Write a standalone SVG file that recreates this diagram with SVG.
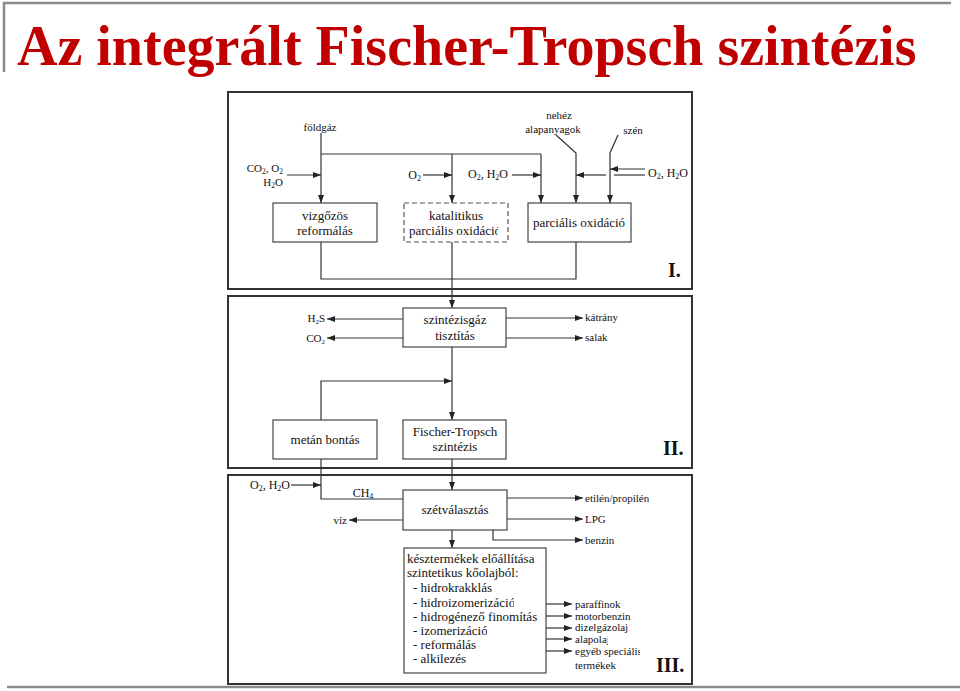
<svg xmlns="http://www.w3.org/2000/svg" width="960" height="691" viewBox="0 0 960 691">
<style>
.frame{fill:none;stroke:#8c8c8c;stroke-width:2.5}
.panel{fill:#fff;stroke:#333;stroke-width:2}
.box{fill:#fff;stroke:#444;stroke-width:1.2}
.dash{fill:#fff;stroke:#555;stroke-width:1.2;stroke-dasharray:5 3}
.ln{fill:none;stroke:#333;stroke-width:1.2}
.arr{fill:none;stroke:#333;stroke-width:1.2;marker-end:url(#ah)}
text{font-family:"Liberation Serif","Times New Roman",serif;fill:#111}
.bt{font-size:13px}
.lb{font-size:11px}
.ch{font-size:12px}
.rn{font-size:20px;font-weight:bold}
.title{font-size:56px;font-weight:bold;fill:#c00000}
.m{text-anchor:middle}
.e{text-anchor:end}
</style>
<defs>
<marker id="ah" markerUnits="userSpaceOnUse" markerWidth="9" markerHeight="6" refX="8" refY="3" orient="auto">
<path d="M0,0 L8,3 L0,6 z" fill="#222"/>
</marker>
<clipPath id="c1"><rect x="400" y="222" width="98" height="20"/></clipPath>
<clipPath id="c2"><rect x="528" y="208" width="100" height="25"/></clipPath>
<clipPath id="c3"><rect x="405" y="593" width="109" height="16"/></clipPath>
<clipPath id="c4"><rect x="405" y="621" width="82" height="16"/></clipPath>
<clipPath id="c5"><rect x="405" y="649" width="61" height="16"/></clipPath>
<clipPath id="c6"><rect x="570" y="633" width="38" height="14"/></clipPath>
<clipPath id="c7"><rect x="570" y="645" width="70" height="14"/></clipPath>
<clipPath id="c8"><rect x="580" y="490" width="72" height="16"/></clipPath>
</defs>

<g id="slide-frame">
<path class="frame" d="M4,72 V3 H951"/>
<path class="frame" d="M7,687 H960"/>
</g>
<g id="title">
<text class="title" x="17" y="65">Az integrált Fischer-Tropsch szintézis</text>
</g>

<g id="panels">
<rect id="panel-I" class="panel" x="228" y="92" width="464" height="197"/>
<rect id="panel-II" class="panel" x="228" y="296" width="464" height="172"/>
<rect id="panel-III" class="panel" x="228" y="475" width="464" height="209"/>
<text class="rn" x="668" y="277">I.</text>
<text class="rn" x="663" y="455">II.</text>
<text class="rn" x="656" y="672">III.</text>
</g>

<g id="connectors">
<path class="arr" d="M321,133 V203"/>
<path class="ln" d="M321,154 H541"/>
<path class="arr" d="M452,154 V203"/>
<path class="arr" d="M541,154 V203"/>
<path class="arr" d="M287,175 H321"/>
<path class="arr" d="M423,175 H452"/>
<path class="arr" d="M512,175 H541"/>
<path class="arr" d="M556,135 L576,153 V203"/>
<path class="arr" d="M618,135 L610,153 V203"/>
<path class="arr" d="M645,169 H610"/>
<path class="ln" d="M645,175 H614"/>
<path class="arr" d="M606,175 H576"/>
<path class="ln" d="M321,242 V279 H576 V242"/>
<path class="arr" d="M452,242 V308"/>
<path class="arr" d="M403,319 H327"/>
<path class="arr" d="M403,338 H327"/>
<path class="arr" d="M506,318 H583"/>
<path class="arr" d="M506,338 H583"/>
<path class="arr" d="M452,347 V420"/>
<path class="arr" d="M321,420 V381 H452"/>
<path class="arr" d="M452,459 V490"/>
<path class="ln" d="M321,459 V499 H403"/>
<path class="arr" d="M291,485 H321"/>
<path class="arr" d="M403,520 H349"/>
<path class="arr" d="M506,498 H583"/>
<path class="arr" d="M506,519 H583"/>
<path class="arr" d="M493,529 V540 H583"/>
<path class="arr" d="M452,529 V548"/>
<path class="arr" d="M546,604 H572"/>
<path class="arr" d="M546,616 H572"/>
<path class="arr" d="M546,628 H572"/>
<path class="arr" d="M546,639 H572"/>
<path class="arr" d="M546,651 H572"/>
</g>

<g id="labels">
<text class="lb m" x="320" y="131">földgáz</text>
<text class="lb m" x="559" y="119">nehéz</text>
<text class="lb m" x="553" y="133">alapanyagok</text>
<text class="lb m" x="633" y="134">szén</text>
<text class="lb e" x="283" y="172">CO<tspan font-size="7.5" dy="2">2</tspan><tspan dy="-2">, O</tspan><tspan font-size="7.5" dy="2">2</tspan></text>
<text class="lb e" x="283" y="186">H<tspan font-size="7.5" dy="2">2</tspan><tspan dy="-2">O</tspan></text>
<text class="ch e" x="421" y="179">O<tspan font-size="8" dy="2">2</tspan></text>
<text class="ch e" x="508" y="178">O<tspan font-size="8" dy="2">2</tspan><tspan dy="-2">, H</tspan><tspan font-size="8" dy="2">2</tspan><tspan dy="-2">O</tspan></text>
<text class="ch" x="648" y="177">O<tspan font-size="8" dy="2">2</tspan><tspan dy="-2">, H</tspan><tspan font-size="8" dy="2">2</tspan><tspan dy="-2">O</tspan></text>
<text class="lb e" x="325" y="322">H<tspan font-size="7" dy="2">2</tspan><tspan dy="-2">S</tspan></text>
<text class="lb e" x="325" y="342">CO<tspan font-size="7" dy="2">2</tspan></text>
<text class="lb" x="585" y="321">kátrány</text>
<text class="lb" x="585" y="341">salak</text>
<text class="ch" x="250" y="489">O<tspan font-size="8" dy="2">2</tspan><tspan dy="-2">, H</tspan><tspan font-size="8" dy="2">2</tspan><tspan dy="-2">O</tspan></text>
<text class="ch m" x="363" y="497">CH<tspan font-size="8" dy="2">4</tspan></text>
<text class="lb e" x="347" y="524">víz</text>
<text class="lb" x="585" y="502" clip-path="url(#c8)">etilén/propilén</text>
<text class="lb" x="585" y="523">LPG</text>
<text class="lb" x="585" y="544">benzin</text>
<text class="lb" x="575" y="608">paraffinok</text>
<text class="lb" x="575" y="620">motorbenzin</text>
<text class="lb" x="575" y="631">dizelgázolaj</text>
<text class="lb" x="575" y="643" clip-path="url(#c6)">alapolaj</text>
<text class="lb" x="575" y="655" clip-path="url(#c7)">egyéb speciális</text>
<text class="lb" x="575" y="669">termékek</text>
</g>

<g id="node-vizgozos">
<rect class="box" x="273" y="203" width="104" height="39"/>
<text class="bt m" x="325" y="220">vizgőzös</text>
<text class="bt m" x="325" y="235">reformálás</text>
</g>
<g id="node-katalitikus">
<rect class="dash" x="404" y="203" width="104" height="39"/>
<text class="bt m" x="456" y="220">katalitikus</text>
<text class="bt" x="409" y="235" clip-path="url(#c1)">parciális oxidáció</text>
</g>
<g id="node-parcialis">
<rect class="box" x="528" y="203" width="103" height="39"/>
<text class="bt" x="533" y="227" font-size="14" clip-path="url(#c2)">parciális oxidáció</text>
</g>
<g id="node-tisztitas">
<rect class="box" x="403" y="308" width="103" height="39"/>
<text class="bt m" x="455" y="324">szintézisgáz</text>
<text class="bt m" x="455" y="340">tisztítás</text>
</g>
<g id="node-metan">
<rect class="box" x="273" y="420" width="104" height="39"/>
<text class="bt m" x="325" y="444">metán bontás</text>
</g>
<g id="node-ft">
<rect class="box" x="403" y="420" width="103" height="39"/>
<text class="bt m" x="455" y="436">Fischer-Tropsch</text>
<text class="bt m" x="455" y="451">szintézis</text>
</g>
<g id="node-szetvalasztas">
<rect class="box" x="403" y="490" width="104" height="40"/>
<text class="bt m" x="455" y="514">szétválasztás</text>
</g>
<g id="node-kesztermek">
<rect class="box" x="404" y="548" width="142" height="125"/>
<text class="bt" x="407" y="563">késztermékek előállítása</text>
<text class="bt" x="407" y="577">szintetikus kőolajból:</text>
<text class="bt" x="413" y="592">- hidrokrakklás</text>
<text class="bt" x="413" y="607" clip-path="url(#c3)">- hidroizomerizáció</text>
<text class="bt" x="413" y="621">- hidrogénező finomítás</text>
<text class="bt" x="413" y="635" clip-path="url(#c4)">- izomerizáció</text>
<text class="bt" x="413" y="649">- reformálás</text>
<text class="bt" x="413" y="663" clip-path="url(#c5)">- alkilezés</text>
</g>
</svg>
